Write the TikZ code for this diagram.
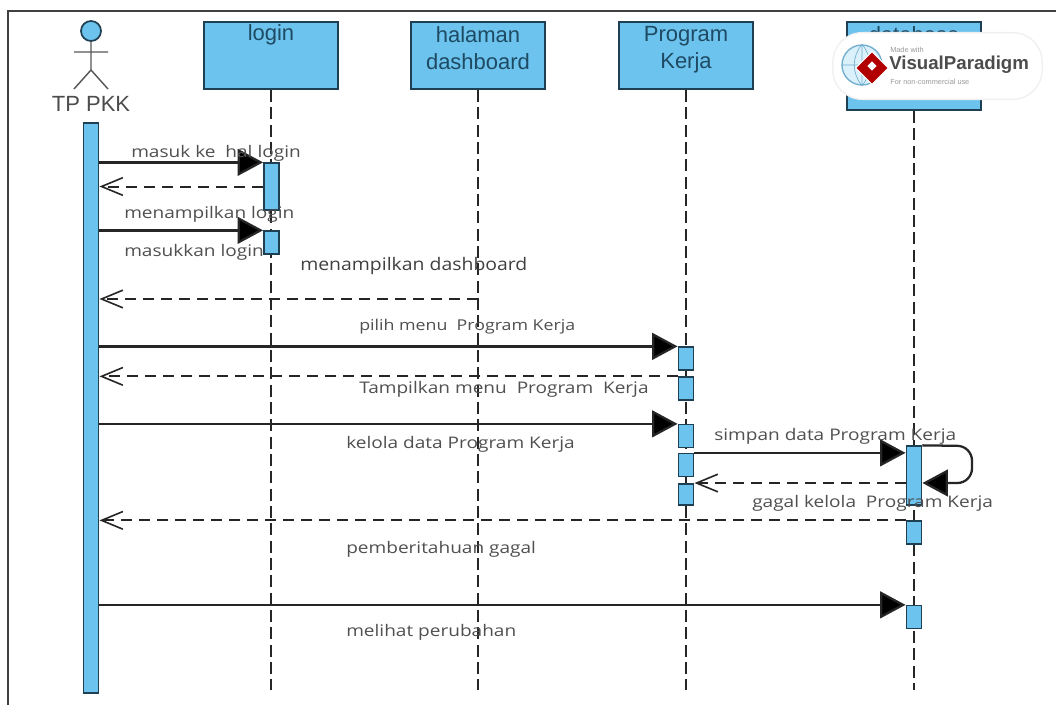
\documentclass[tikz,border=0pt]{standalone}
\usepackage{fontspec}
\setmainfont{Liberation Sans}
\newfontfamily\msgfont[FakeStretch=1.19]{Open Sans}
\newfontfamily\dashfont[FakeStretch=1.12]{Open Sans}
\usetikzlibrary{arrows.meta,shapes.geometric}
\definecolor{boxfill}{HTML}{6CC3EE}
\definecolor{boxline}{HTML}{1F3F52}
\definecolor{boxtext}{HTML}{1F4A63}
\definecolor{msgtext}{HTML}{505050}
\tikzset{
  lifebox/.style={draw=boxline,fill=boxfill,line width=1.6pt,minimum width=100.5pt,minimum height=50pt,inner sep=0pt},
  headtext/.style={font=\fontsize{16.5}{19}\selectfont,text=boxtext,align=center,inner sep=0pt},
  act/.style={draw=boxline,fill=boxfill,line width=1.2pt,minimum width=11.5pt,inner sep=0pt},
  lifeline/.style={draw=black!85,line width=1.3pt,dash pattern=on 9pt off 4pt},
  msgsolid/.style={draw=black!85,line width=1.7pt,-{Triangle[length=19pt,width=20pt,fill=black]}},
  msgdash/.style={draw=black!85,line width=1.5pt,dash pattern=on 8pt off 5.5pt,-{Straight Barb[length=16pt,width=21pt,line width=1.2pt,angle'=45,harpoon=false]}},
  msglabel/.style={font=\msgfont\fontsize{12}{14}\selectfont,text=msgtext,anchor=west,inner sep=0pt,yshift=-1pt},
  framel/.style={draw=black!75,line width=1pt},
}
\begin{document}
\begin{tikzpicture}[x=0.75pt,y=-0.75pt]
\useasboundingbox (0,0) rectangle (1056,717);
\fill[white] (0,0) rectangle (1056,717);
\coordinate (fa) at (8,705);
\coordinate (fb) at (8,11);
\coordinate (fc) at (1056,11);
\draw[framel] (fa) -- (fb) -- (fc);

% lifeline heads
\node[lifebox] (login) at (271,55.5) {};
\node[lifebox] (dash) at (478,55.5) {};
\node[lifebox] (prog) at (686,55.5) {};
\node[lifebox,minimum height=66pt] (db) at (914,66) {};
\node[headtext] (logint) at (271,35) {login};
\node[headtext] (dasht) at (478,48) {halaman\\[1pt]dashboard};
\node[headtext] (progt) at (686,50) {Program\\[1pt]Kerja};
\node[headtext] (dbt) at (914,35) {database};

% lifelines
\coordinate (lloginend) at (271,690);
\coordinate (ldashend) at (478,690);
\coordinate (lprogend) at (686,690);
\coordinate (ldbend) at (914,690);
\draw[lifeline] (login.south) -- (lloginend);
\draw[lifeline] (dash.south) -- (ldashend);
\draw[lifeline] (prog.south) -- (lprogend);
\draw[lifeline] (db.south) -- (ldbend);

% actor
\node[draw=boxline,fill=boxfill,circle,line width=1.3pt,minimum size=15pt,inner sep=0pt] (head) at (91,31) {};
\coordinate (arml) at (74,52);
\coordinate (armr) at (108,52);
\coordinate (hip) at (91,70);
\coordinate (legl) at (74,89);
\coordinate (legr) at (108,89);
\draw[black!65,line width=1.1pt] (head.south) -- (hip) (arml) -- (armr) (legl) -- (hip) -- (legr);
\node[font=\fontsize{16.5}{18}\selectfont,text=black!70,inner sep=0pt] (actor) at (91,104) {TP PKK};

% activations
\node[act,minimum height=427.5pt] (tp) at (91,408) {};
\node[act,minimum height=35pt] (a1) at (271.5,186.5) {};
\node[act,minimum height=17pt] (a2) at (271.5,242.5) {};
\node[act,minimum height=17pt] (p1) at (686,358.5) {};
\node[act,minimum height=17pt] (p2) at (686,388.5) {};
\node[act,minimum height=17pt] (p3) at (686,436) {};
\node[act,minimum height=17pt] (p4) at (686,465) {};
\node[act,minimum height=16pt] (p5) at (686,494.5) {};
\node[act,minimum height=44pt] (d1) at (914,475.5) {};
\node[act,minimum height=17pt] (d2) at (914,532.5) {};
\node[act,minimum height=17pt] (d3) at (914,617) {};

% messages
\draw[msgsolid] (tp.east |- a1.north west) -- (a1.north west);
\draw[msgdash] (a1.west) -- (tp.east |- a1.west);
\draw[msgsolid] (tp.east |- a2.north west) -- (a2.north west);
\coordinate (dashm) at (478,299);
\draw[msgdash] (dashm) -- (tp.east |- dashm);
\draw[msgsolid] (tp.east |- p1.north west) -- (p1.north west);
\draw[msgdash] (p2.north west) -- (tp.east |- p2.north west);
\draw[msgsolid] (tp.east |- p3.north west) -- (p3.north west);
\draw[msgsolid] (p4.north east) -- (d1.west |- p4.north east);
\draw[msgdash] (d1.west |- p5.north east) -- (p5.north east);
\draw[msgdash] (d2.north west) -- (tp.east |- d2.north west);
\draw[msgsolid] (tp.east |- d3.north west) -- (d3.north west);
\coordinate (selfa) at (972,446);
\coordinate (selfb) at (972,483);
\draw[msgsolid,rounded corners=11pt] (d1.north east) -- (selfa) -- (selfb) -- (d1.east |- selfb);

% labels
\node[msglabel] (l1) at (131,152) {masuk ke\ \ hal login};
\node[msglabel] (l2) at (124,213) {menampilkan login};
\node[msglabel] (l3) at (124,251) {masukkan login};
\node[font=\dashfont\fontsize{13}{15}\selectfont,text=black!75,anchor=west,inner sep=0pt,yshift=-1pt] (l4) at (300,265) {menampilkan dashboard};
\node[msglabel,font=\msgfont\fontsize{11.2}{14}\selectfont] (l5) at (359,325) {pilih menu\ \ Program Kerja};
\node[msglabel] (l6) at (359,388) {Tampilkan menu\ \ Program\ \ Kerja};
\node[msglabel] (l7) at (346,443) {kelola data Program Kerja};
\node[msglabel] (l8) at (714,435) {simpan data Program Kerja};
\node[msglabel] (l9) at (752,502) {gagal kelola\ \ Program Kerja};
\node[msglabel] (l10) at (346,548) {pemberitahuan gagal};
\node[msglabel] (l11) at (346,631) {melihat perubahan};

% watermark
\node[fill=white,draw=black!6,line width=1pt,rounded corners=22pt,minimum width=157pt,minimum height=50pt,inner sep=0pt] (wm) at (937.5,66) {};
\node[circle,draw=boxfill!70!gray,fill=boxfill!25,line width=1pt,minimum size=30pt,inner sep=0pt] (globe) at (862,65) {};
\draw[boxfill!70!gray,line width=0.5pt] (globe.west) -- (globe.east) (globe.north) -- (globe.south) (globe.north) to[bend right=40] (globe.south) (globe.north) to[bend left=40] (globe.south);
\node[diamond,fill=red!70!black,draw=white,line width=0.8pt,minimum width=25pt,minimum height=25pt,inner sep=0pt] (gem) at (872,68) {};
\node[fill=white,minimum width=5pt,minimum height=5pt,inner sep=0pt,rotate=45] (gemc) at (872,66) {};
\node[font=\fontsize{5.5}{6}\selectfont,text=black!40,anchor=west,inner sep=0pt] (wm1) at (890,50) {Made with};
\node[font=\bfseries\fontsize{14}{16}\selectfont,text=black!70,anchor=west,inner sep=0pt] (wm2) at (889,65) {VisualParadigm};
\node[font=\fontsize{5.5}{6}\selectfont,text=black!40,anchor=west,inner sep=0pt] (wm3) at (890,82) {For non-commercial use};
\end{tikzpicture}
\end{document}
